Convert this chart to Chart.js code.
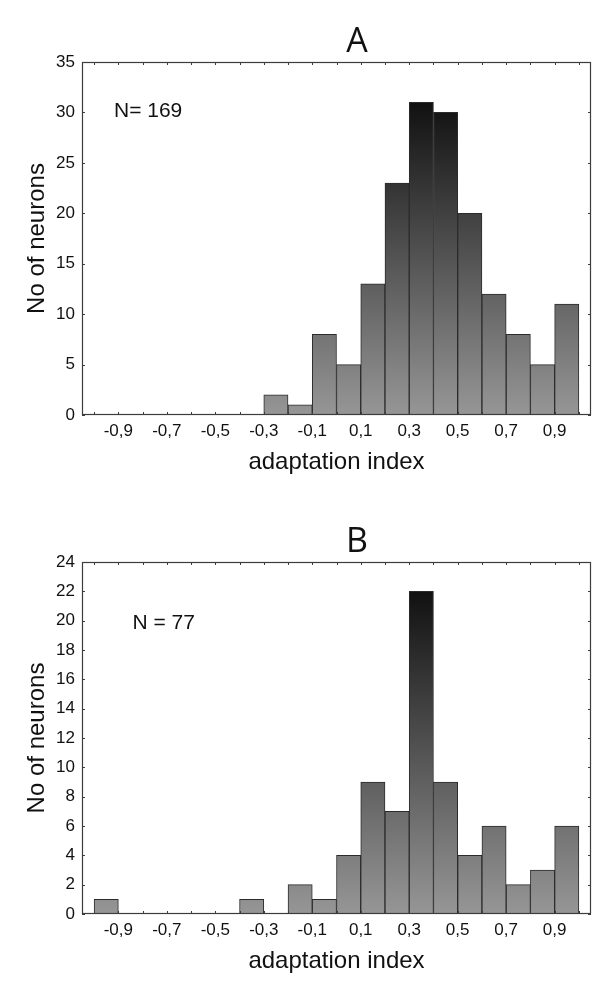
<!DOCTYPE html>
<html>
<head>
<meta charset="utf-8">
<script src="https://cdn.jsdelivr.net/npm/chart.js@4.4.1/dist/chart.umd.min.js"></script>
<style>
  html, body { margin: 0; padding: 0; background: #fff; }
  body { width: 615px; height: 997px; position: relative; overflow: hidden; }
  .panel { position: absolute; left: 0; width: 615px; }
  #boxA { top: 0; height: 490px; }
  #boxB { top: 500px; height: 497px; }
</style>
</head>
<body>
<div class="panel" id="boxA"><canvas id="chartA"></canvas></div>
<div class="panel" id="boxB"><canvas id="chartB"></canvas></div>
<script>
// bin centres (bins of width 0.1 from -1 to 1)
var binCenters = [-0.95, -0.85, -0.75, -0.65, -0.55, -0.45, -0.35, -0.25, -0.15, -0.05,
                  0.05, 0.15, 0.25, 0.35, 0.45, 0.55, 0.65, 0.75, 0.85, 0.95];

// number of neurons per bin
var countsA = [0, 0, 0, 0, 0, 0, 0, 2, 1, 8, 5, 13, 23, 31, 30, 20, 12, 8, 5, 11];
var countsB = [1, 0, 0, 0, 0, 0, 1, 0, 2, 1, 4, 9, 7, 22, 9, 4, 6, 2, 3, 6];

// x tick labels (comma decimals as in the original)
var xTickValues = [-0.9, -0.7, -0.5, -0.3, -0.1, 0.1, 0.3, 0.5, 0.7, 0.9];
var xTickLabels = ['-0,9', '-0,7', '-0,5', '-0,3', '-0,1', '0,1', '0,3', '0,5', '0,7', '0,9'];

Chart.defaults.font.family = '"Liberation Sans", Arial, sans-serif';
Chart.defaults.color = '#111';

// frame, inward ticks, panel letter and N text
var framePlugin = {
    id: 'frame',
    afterDraw: function (chart) {
        var ctx = chart.ctx;
        var a = chart.chartArea;
        var x = chart.scales.x, y = chart.scales.y;
        var o = chart.options.plugins.frame;
        ctx.save();
        ctx.strokeStyle = '#3c3c3c';
        ctx.lineWidth = 1.2;
        ctx.strokeRect(a.left + 0.5, a.top + 0.5, a.right - a.left - 1, a.bottom - a.top - 1);
        ctx.lineWidth = 1;
        ctx.beginPath();
        x.ticks.forEach(function (t) {
            var px = Math.round(x.getPixelForValue(t.value)) + 0.5;
            ctx.moveTo(px, a.bottom); ctx.lineTo(px, a.bottom - 3);
            ctx.moveTo(px, a.top); ctx.lineTo(px, a.top + 3);
        });
        y.ticks.forEach(function (t) {
            var py = Math.round(y.getPixelForValue(t.value)) + 0.5;
            ctx.moveTo(a.left, py); ctx.lineTo(a.left + 3, py);
            ctx.moveTo(a.right, py); ctx.lineTo(a.right - 3, py);
        });
        ctx.stroke();

        ctx.fillStyle = '#111';
        ctx.textAlign = 'center';
        ctx.textBaseline = 'alphabetic';
        ctx.font = '34px "Open Sans", sans-serif';
        ctx.fillText(o.letter, a.left + 275, a.top - 10.5);

        ctx.textAlign = 'left';
        ctx.font = '21px "Liberation Sans", Arial, sans-serif';
        ctx.fillText(o.nText, a.left + o.nDx, a.top + o.nDy);
        ctx.restore();
    }
};

function makeChart(id, letter, nText, nDx, nDy, counts, yMax, yStep, padBottom) {
    var maxCount = Math.max.apply(null, counts);
    var points = binCenters.map(function (c, i) { return { x: c, y: counts[i] }; });

    return new Chart(document.getElementById(id), {
        type: 'bar',
        data: {
            datasets: [{
                data: points,
                barPercentage: 1,
                categoryPercentage: 1,
                borderColor: '#2b2b2b',
                borderWidth: function (c) { return c.raw && c.raw.y > 0 ? 1 : 0; },
                borderSkipped: false,
                backgroundColor: function (c) {
                    var ch = c.chart;
                    if (!ch.chartArea) return '#888';
                    var ys = ch.scales.y;
                    var g = ch.ctx.createLinearGradient(0, ys.getPixelForValue(0), 0, ys.getPixelForValue(maxCount));
                    g.addColorStop(0, '#969696');
                    g.addColorStop(1, '#111111');
                    return g;
                }
            }]
        },
        options: {
            responsive: true,
            maintainAspectRatio: false,
            animation: false,
            layout: { padding: { top: 62, right: 24, bottom: padBottom, left: 0 } },
            plugins: {
                legend: { display: false },
                tooltip: { enabled: false },
                frame: { letter: letter, nText: nText, nDx: nDx, nDy: nDy }
            },
            scales: {
                x: {
                    type: 'linear',
                    min: -1.05,
                    max: 1.05,
                    offset: false,
                    grid: { display: false, drawTicks: false },
                    border: { display: false },
                    // tick marks every 0.1 between the bin edges -1 and 1
                    afterBuildTicks: function (s) {
                        var t = [];
                        for (var i = -10; i <= 10; i++) t.push({ value: i / 10 });
                        s.ticks = t;
                    },
                    ticks: {
                        autoSkip: false,
                        maxRotation: 0,
                        padding: 6,
                        font: { size: 17 },
                        callback: function (v) {
                            for (var i = 0; i < xTickValues.length; i++) {
                                if (Math.abs(v - xTickValues[i]) < 1e-6) return xTickLabels[i];
                            }
                            return '';
                        }
                    },
                    title: {
                        display: true,
                        text: 'adaptation index',
                        font: { size: 24 },
                        padding: 0
                    },
                    afterFit: function (s) { s.height = 62; }
                },
                y: {
                    min: 0,
                    max: yMax,
                    grid: { display: false, drawTicks: false },
                    border: { display: false },
                    ticks: {
                        stepSize: yStep,
                        padding: 7,
                        font: { size: 17 }
                    },
                    title: {
                        display: true,
                        text: 'No of neurons',
                        font: { size: 24 },
                        padding: { top: 23, bottom: 0 }
                    },
                    afterFit: function (s) { s.width = 82; }
                }
            }
        },
        plugins: [framePlugin]
    });
}

makeChart('chartA', 'A', 'N= 169', 32, 54.5, countsA, 35, 5, 13);
makeChart('chartB', 'B', 'N = 77', 50.5, 67, countsB, 24, 2, 21);
</script>
</body>
</html>
